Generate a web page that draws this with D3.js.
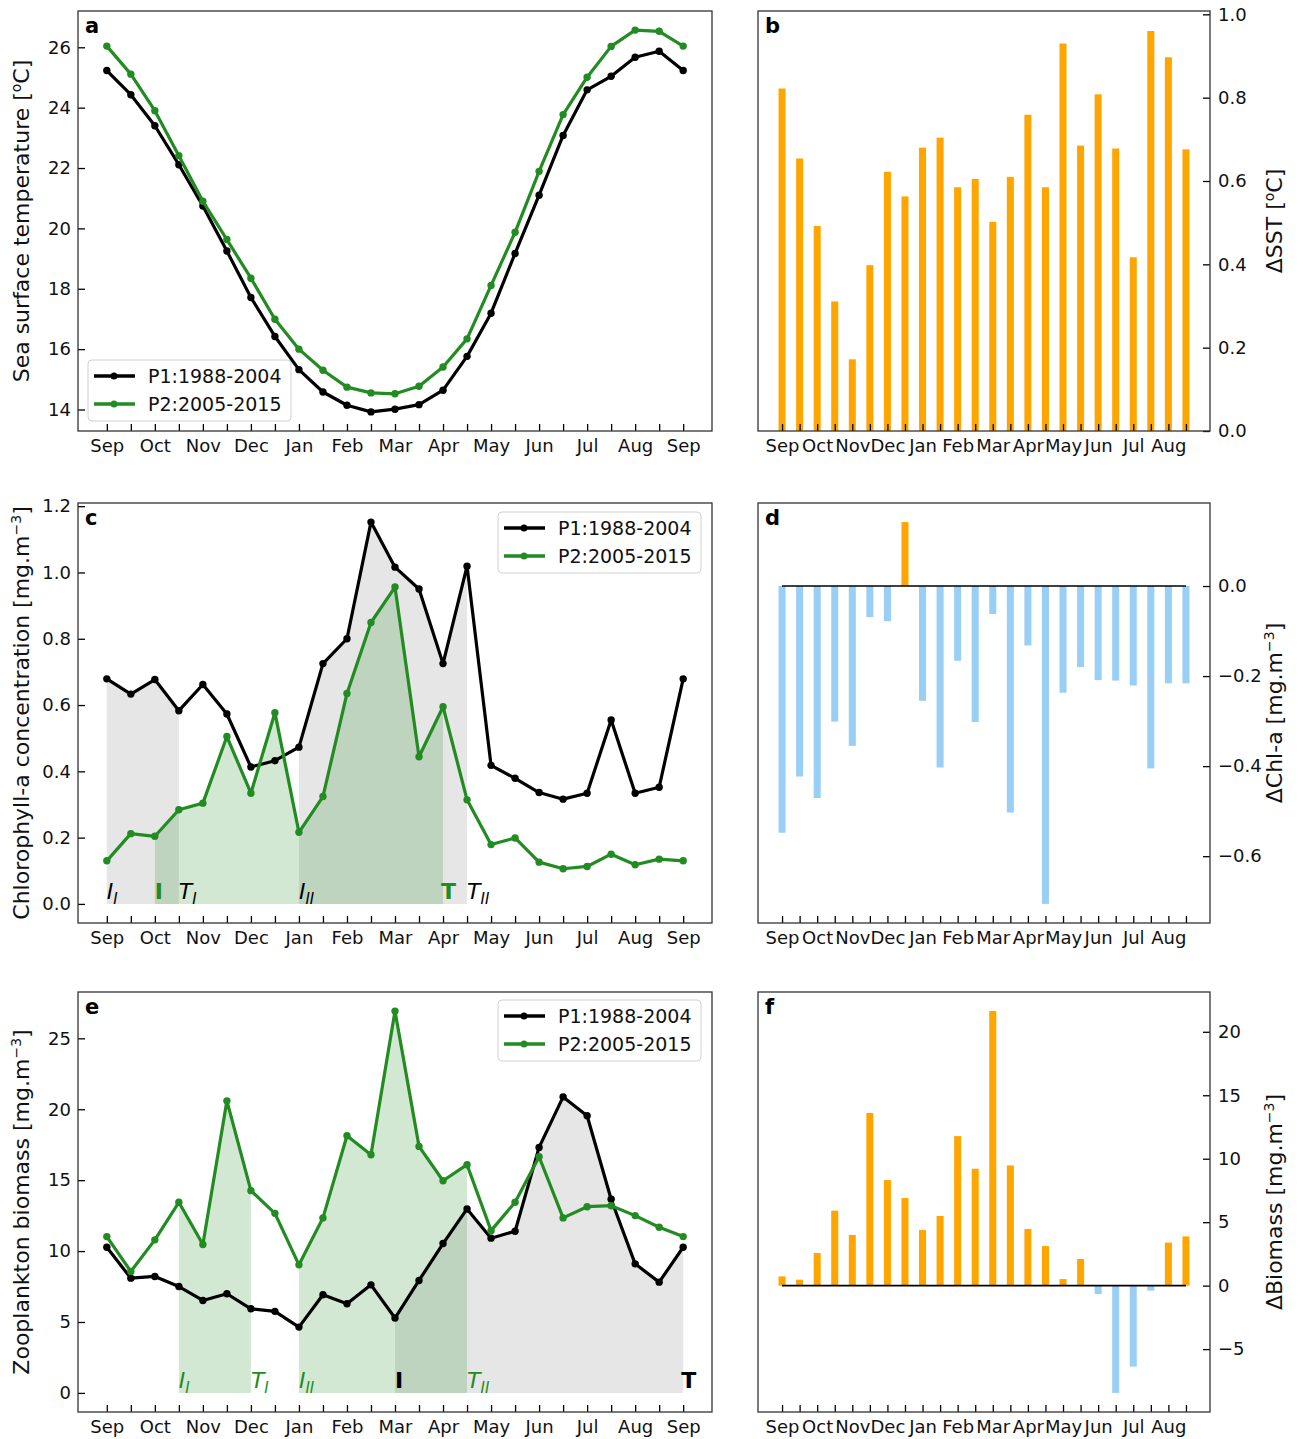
<!DOCTYPE html>
<html lang="en">
<head>
<meta charset="UTF-8">
<title>SST, Chl-a and zooplankton: P1 vs P2</title>
<script src="https://d3js.org/d3.v7.min.js"></script>
<style>
  body { margin: 0; background: #fff; }
  svg { font-family: "DejaVu Sans", sans-serif; }
</style>
</head>
<body>
<svg id="fig" width="1303" height="1439"></svg>
<script>
// month labels (one every two points, half-month steps)
var months = ["Sep","Oct","Nov","Dec","Jan","Feb","Mar","Apr","May","Jun","Jul","Aug","Sep"];

// sea surface temperature [oC], 25 half-month points Sep..Sep
var sstP1 = [25.23,24.43,23.40,22.11,20.74,19.25,17.71,16.42,15.32,14.58,14.14,13.92,14.01,
             14.16,14.64,15.76,17.19,19.17,21.10,23.08,24.59,25.04,25.67,25.87,25.23];
var sstP2 = [26.04,25.11,23.90,22.41,20.90,19.63,18.35,16.99,16.00,15.30,14.74,14.55,14.52,
             14.77,15.41,16.34,18.11,19.87,21.89,23.77,25.01,26.03,26.57,26.53,26.04];
var dSST = [0.822,0.654,0.492,0.311,0.172,0.398,0.622,0.563,0.680,0.704,0.585,0.605,
            0.502,0.610,0.759,0.585,0.930,0.685,0.808,0.678,0.417,0.960,0.897,0.676];

// chlorophyll-a [mg.m-3]
var chlP1 = [0.679,0.633,0.677,0.583,0.662,0.573,0.413,0.432,0.473,0.725,0.800,1.152,1.016,
             0.950,0.725,1.019,0.418,0.379,0.336,0.316,0.334,0.555,0.334,0.352,0.679];
var chlP2 = [0.130,0.212,0.204,0.284,0.304,0.505,0.334,0.577,0.216,0.324,0.635,0.849,0.956,
             0.444,0.595,0.314,0.179,0.199,0.126,0.106,0.113,0.150,0.118,0.135,0.130];
var dChl = [-0.548,-0.423,-0.471,-0.301,-0.355,-0.069,-0.078,0.142,-0.255,-0.403,-0.166,-0.302,
            -0.062,-0.503,-0.132,-0.706,-0.237,-0.180,-0.209,-0.210,-0.221,-0.405,-0.216,-0.216];

// zooplankton biomass [mg.m-3]
var zooP1 = [10.27,8.09,8.21,7.50,6.52,6.99,5.93,5.75,4.64,6.92,6.29,7.62,5.28,
             7.93,10.53,12.97,10.91,11.40,17.31,20.87,19.54,13.65,9.10,7.81,10.27];
var zooP2 = [11.02,8.56,10.79,13.44,10.46,20.59,14.26,12.66,9.03,12.34,18.13,16.79,26.92,
             17.38,14.96,16.09,11.44,13.44,16.65,12.34,13.13,13.20,12.50,11.68,11.02];
var dZoo = [0.73,0.47,2.57,5.91,3.99,13.6,8.32,6.90,4.38,5.49,11.78,9.21,
            21.63,9.47,4.46,3.12,0.52,2.10,-0.66,-8.45,-6.38,-0.39,3.39,3.88];

// bloom periods: [initiation index, termination index]
var chlBloomP1 = [[0, 3], [8, 15]];
var chlBloomP2 = [[2, 14]];
var zooBloomP1 = [[12, 24]];
var zooBloomP2 = [[3, 6], [8, 15]];

var legendNames = ["P1:1988-2004", "P2:2005-2015"];

var BLACK = "#000", GREEN = "#228b22", ORANGE = "#ffa500", BLUE = "#99cff5";
var svg = d3.select("#fig");

var colL = [78, 712], colR = [758, 1210];
var rows = [[11, 431], [503, 923], [992, 1412]];

function pad(ext, zero) {
  var lo = zero ? Math.min(0, ext[0]) : ext[0], hi = ext[1], r = hi - lo;
  return [lo - 0.05 * r, hi + 0.05 * r];
}

// text with <tspan> parts, sup / sub
function rich(t, parts) {
  parts.forEach(function (p) {
    var s = t.append("tspan").text(p.t);
    if (p.sup) s.attr("font-size", 14).attr("dy", -8);
    if (p.after) s.attr("dy", 8);
    if (p.sub) s.attr("font-size", 15).attr("dy", 5);
  });
  return t;
}

function styleAxis(a) {
  a.attr("font-size", 18).attr("font-family", null);
  a.select(".domain").remove();
  a.selectAll(".tick line").attr("stroke", "#000").attr("stroke-width", 1.3);
  a.selectAll(".tick text").attr("fill", "#111");
}

function frame(g, xr, yr) {
  g.append("rect").attr("x", xr[0]).attr("y", yr[0])
    .attr("width", xr[1] - xr[0]).attr("height", yr[1] - yr[0])
    .attr("fill", "none").attr("stroke", "#333").attr("stroke-width", 1.3);
}

function letter(g, xr, yr, s) {
  g.append("text").attr("x", xr[0] + 7).attr("y", yr[0] + 22)
    .attr("font-size", 21).attr("font-weight", "bold").text(s);
}

function legend(g, bx, by) {
  g.append("rect").attr("x", bx).attr("y", by).attr("width", 203).attr("height", 61)
    .attr("rx", 4).attr("fill", "#fff").attr("fill-opacity", 0.8)
    .attr("stroke", "#d0d0d0").attr("stroke-width", 1);
  [BLACK, GREEN].forEach(function (c, k) {
    var cy = by + 16 + k * 28;
    g.append("line").attr("x1", bx + 6).attr("x2", bx + 47).attr("y1", cy).attr("y2", cy)
      .attr("stroke", c).attr("stroke-width", 3.5);
    g.append("circle").attr("cx", bx + 26).attr("cy", cy).attr("r", 3.5).attr("fill", c);
    g.append("text").attr("x", bx + 60).attr("y", cy).attr("dy", "0.36em")
      .attr("font-size", 19).attr("fill", "#111").text(legendNames[k]);
  });
}

function linePanel(o) {
  var g = svg.append("g");
  var xr = colL, yr = rows[o.row];
  var x = d3.scaleLinear().domain([-1.2, 25.2]).range(xr);
  var y = d3.scaleLinear().domain(pad(d3.extent(o.p1.concat(o.p2)), o.zero)).range([yr[1], yr[0]]);

  // bloom shading
  function shade(series, blooms, col) {
    blooms.forEach(function (b) {
      var idx = d3.range(b[0], b[1] + 1);
      g.append("path").datum(idx)
        .attr("d", d3.area().x(function (i) { return x(i); }).y0(y(0))
          .y1(function (i) { return y(series[i]); }))
        .attr("fill", col).attr("fill-opacity", 0.2);
    });
  }
  if (o.b1) {
    shade(o.p1, o.b1, "#808080");
    shade(o.p2, o.b2, GREEN);
  }

  [[o.p1, BLACK], [o.p2, GREEN]].forEach(function (s) {
    g.append("path").datum(s[0])
      .attr("d", d3.line().x(function (d, i) { return x(i); }).y(function (d) { return y(d); }))
      .attr("fill", "none").attr("stroke", s[1]).attr("stroke-width", 3.2)
      .attr("stroke-linejoin", "round");
    g.selectAll(null).data(s[0]).enter().append("circle")
      .attr("cx", function (d, i) { return x(i); }).attr("cy", function (d) { return y(d); })
      .attr("r", 3.7).attr("fill", s[1]);
  });

  // I / T markers of each bloom
  function marks(blooms, col) {
    var roman = ["I", "II"];
    blooms.forEach(function (b, k) {
      ["I", "T"].forEach(function (ch, j) {
        var t = g.append("text").attr("x", x(b[j])).attr("y", y(0) - 5)
          .attr("font-size", 22).attr("fill", col);
        if (blooms.length > 1) {
          t.attr("font-style", "italic");
          rich(t, [{ t: ch }, { t: roman[k], sub: true }]);
        } else {
          t.attr("font-weight", "bold").attr("dx", ch === "T" ? -2 : 0).text(ch);
        }
      });
    });
  }
  if (o.b1) {
    marks(o.b1, BLACK);
    marks(o.b2, GREEN);
  }

  var ax = g.append("g").attr("transform", "translate(0," + yr[1] + ")")
    .call(d3.axisBottom(x).tickValues(d3.range(25)).tickSize(-7).tickPadding(8)
      .tickFormat(function (i) { return i % 2 ? "" : months[i / 2]; }));
  styleAxis(ax);
  var ay = g.append("g").attr("transform", "translate(" + xr[0] + ",0)")
    .call(d3.axisLeft(y).tickValues(o.ticks).tickSize(-7).tickPadding(7).tickFormat(d3.format(o.fmt)));
  styleAxis(ay);

  frame(g, xr, yr);
  letter(g, xr, yr, o.letter);
  legend(g, o.legendPos[0], o.legendPos[1]);

  var lab = g.append("text").attr("font-size", 22).attr("fill", "#111")
    .attr("text-anchor", "middle")
    .attr("transform", "translate(29," + (yr[0] + yr[1]) / 2 + ") rotate(-90)");
  rich(lab, o.ylabel);
}

function barPanel(o) {
  var g = svg.append("g");
  var xr = colR, yr = rows[o.row];
  var n = o.v.length, bw = 0.4;
  var x = d3.scaleLinear().domain([-bw / 2 - 0.05 * (n - 1 + bw), n - 1 + bw / 2 + 0.05 * (n - 1 + bw)]).range(xr);
  var ext = d3.extent(o.v);
  var yd = ext[0] >= 0 ? [0, ext[1] * 1.05] : pad(ext, false);
  var y = d3.scaleLinear().domain(yd).range([yr[1], yr[0]]);

  g.selectAll(null).data(o.v).enter().append("rect")
    .attr("x", function (d, i) { return x(i - bw / 2); })
    .attr("width", x(bw) - x(0))
    .attr("y", function (d) { return y(Math.max(0, d)); })
    .attr("height", function (d) { return Math.abs(y(d) - y(0)); })
    .attr("fill", function (d) { return d >= 0 ? ORANGE : BLUE; });

  if (yd[0] < 0) {
    g.append("line").attr("x1", x(0)).attr("x2", x(n - 1)).attr("y1", y(0)).attr("y2", y(0))
      .attr("stroke", "#000").attr("stroke-width", 1.6);
  }

  var ax = g.append("g").attr("transform", "translate(0," + yr[1] + ")")
    .call(d3.axisBottom(x).tickValues(d3.range(n)).tickSize(-7).tickPadding(8)
      .tickFormat(function (i) { return i % 2 ? "" : months[i / 2]; }));
  styleAxis(ax);
  var ay = g.append("g").attr("transform", "translate(" + xr[1] + ",0)")
    .call(d3.axisRight(y).tickValues(o.ticks).tickSize(-7).tickPadding(8).tickFormat(d3.format(o.fmt)));
  styleAxis(ay);

  frame(g, xr, yr);
  letter(g, xr, yr, o.letter);

  var lab = g.append("text").attr("font-size", 22).attr("fill", "#111")
    .attr("text-anchor", "middle")
    .attr("transform", "translate(1282," + (yr[0] + yr[1]) / 2 + ") rotate(-90)");
  rich(lab, o.ylabel);
}

var mgm3 = [{ t: " [mg.m" }, { t: "\u22123", sup: true }, { t: "]", after: true }];

linePanel({ row: 0, p1: sstP1, p2: sstP2, zero: false, letter: "a",
  ticks: d3.range(14, 27, 2), fmt: "d", legendPos: [88, 360],
  ylabel: [{ t: "Sea surface temperature [" }, { t: "o", sup: true }, { t: "C]", after: true }] });
barPanel({ row: 0, v: dSST, letter: "b", ticks: [0, 0.2, 0.4, 0.6, 0.8, 1.0], fmt: ".1f",
  ylabel: [{ t: "\u0394SST [" }, { t: "o", sup: true }, { t: "C]", after: true }] });

linePanel({ row: 1, p1: chlP1, p2: chlP2, zero: true, letter: "c",
  b1: chlBloomP1, b2: chlBloomP2,
  ticks: [0, 0.2, 0.4, 0.6, 0.8, 1.0, 1.2], fmt: ".1f", legendPos: [498, 512],
  ylabel: [{ t: "Chlorophyll-a concentration" }].concat(mgm3) });
barPanel({ row: 1, v: dChl, letter: "d", ticks: [-0.6, -0.4, -0.2, 0], fmt: ".1f",
  ylabel: [{ t: "\u0394Chl-a" }].concat(mgm3) });

linePanel({ row: 2, p1: zooP1, p2: zooP2, zero: true, letter: "e",
  b1: zooBloomP1, b2: zooBloomP2,
  ticks: [0, 5, 10, 15, 20, 25], fmt: "d", legendPos: [498, 1000],
  ylabel: [{ t: "Zooplankton biomass" }].concat(mgm3) });
barPanel({ row: 2, v: dZoo, letter: "f", ticks: [-5, 0, 5, 10, 15, 20], fmt: "d",
  ylabel: [{ t: "\u0394Biomass" }].concat(mgm3) });
</script>
</body>
</html>
